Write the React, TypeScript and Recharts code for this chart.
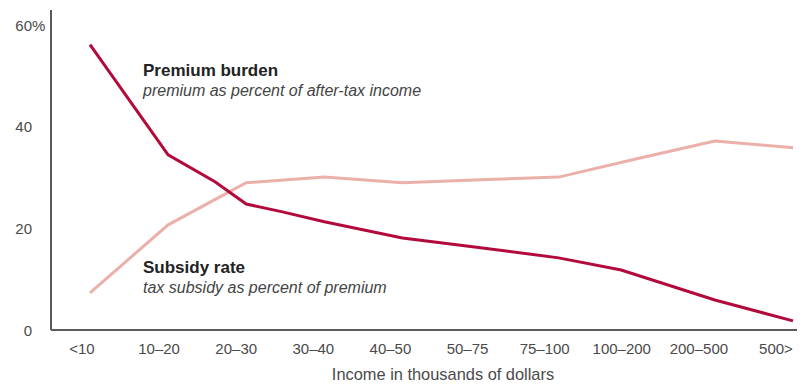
import { LineChart, Line, XAxis, YAxis, Customized } from "recharts";

// income bands (thousands of dollars)
const incomeBands = ["<10", "10–20", "20–30", "30–40", "40–50", "50–75", "75–100", "100–200", "200–500", "500>"];
const bandIndex = [0, 1, 2, 3, 4, 5, 6, 7, 8, 9];

// premium burden: premium as % of after-tax income (with a few in-between readings)
const burdenX = [0, 1, 1.6, 2, 2.45, 3, 4, 5, 6, 6.8, 8, 9];
const burdenValues = [56.2, 34.5, 29.2, 24.8, 23.3, 21.3, 18.1, 16.2, 14.2, 11.8, 5.9, 1.8];

// subsidy rate: tax subsidy as % of premium
const subsidyValues = [7.3, 20.7, 29.0, 30.1, 29.0, 29.6, 30.1, 33.7, 37.2, 35.9];

const yTicks = [0, 20, 40, 60];

const burdenData = burdenX.map((x, i) => ({ x, value: burdenValues[i] }));
const subsidyData = bandIndex.map((x, i) => ({ x, value: subsidyValues[i] }));

const FONT = "'Liberation Sans', Arial, sans-serif";
const AXIS_GRAY = "#5a5a5a";
const TEXT_GRAY = "#4a4a4a";

const XTick = (props: any) => {
  const { x, y, payload, index } = props;
  return (
    <text x={x - 8 - index} y={y + 22} textAnchor="middle" fill={TEXT_GRAY} fontSize={15} fontFamily={FONT}>
      {incomeBands[payload.value]}
    </text>
  );
};

const YTick = (props: any) => {
  const { x, y, payload } = props;
  return (
    <g>
      <text x={x} y={y + 5.5} textAnchor="end" fill={TEXT_GRAY} fontSize={15} fontFamily={FONT}>
        {payload.value}
      </text>
      {payload.value === 60 && (
        <text x={x} y={y + 5.5} textAnchor="start" fill={TEXT_GRAY} fontSize={15} fontFamily={FONT}>
          %
        </text>
      )}
    </g>
  );
};

const Annotations = () => (
  <g fontFamily={FONT}>
    <text x={143} y={76} fontSize={17} fontWeight="bold" fill="#222">
      Premium burden
    </text>
    <text x={143} y={96} fontSize={16} fontStyle="italic" fill="#444">
      premium as percent of after-tax income
    </text>
    <text x={143} y={273} fontSize={17} fontWeight="bold" fill="#222">
      Subsidy rate
    </text>
    <text x={143} y={293} fontSize={16} fontStyle="italic" fill="#444">
      tax subsidy as percent of premium
    </text>
    <text x={443} y={380} fontSize={16.4} textAnchor="middle" fill={TEXT_GRAY}>
      Income in thousands of dollars
    </text>
  </g>
);

export default function App() {
  return (
    <div style={{ width: 801, height: 385, background: "#fff" }}>
      <style>{`body { margin: 0; }`}</style>
      <LineChart width={801} height={385} margin={{ top: 10, right: 4, bottom: 0, left: 6 }} style={{ overflow: "visible" }}>
        <XAxis
          type="number"
          dataKey="x"
          domain={[0, 9]}
          ticks={bandIndex}
          interval={0}
          padding={{ left: 39, right: 4 }}
          height={55}
          axisLine={{ stroke: AXIS_GRAY, strokeWidth: 2 }}
          tickLine={false}
          tickSize={0}
          tick={<XTick />}
          allowDuplicatedCategory={false}
        />
        <YAxis
          type="number"
          domain={[0, 63]}
          ticks={yTicks}
          width={45}
          axisLine={{ stroke: AXIS_GRAY, strokeWidth: 2 }}
          tickLine={false}
          tickSize={0}
          tickMargin={19}
          tick={<YTick />}
        />
        <Line
          data={subsidyData}
          dataKey="value"
          type="linear"
          stroke="#eab0a9"
          strokeWidth={3}
          dot={false}
          isAnimationActive={false}
        />
        <Line
          data={burdenData}
          dataKey="value"
          type="linear"
          stroke="#b30a3c"
          strokeWidth={3}
          dot={false}
          isAnimationActive={false}
        />
        <Customized component={<Annotations />} />
      </LineChart>
    </div>
  );
}
